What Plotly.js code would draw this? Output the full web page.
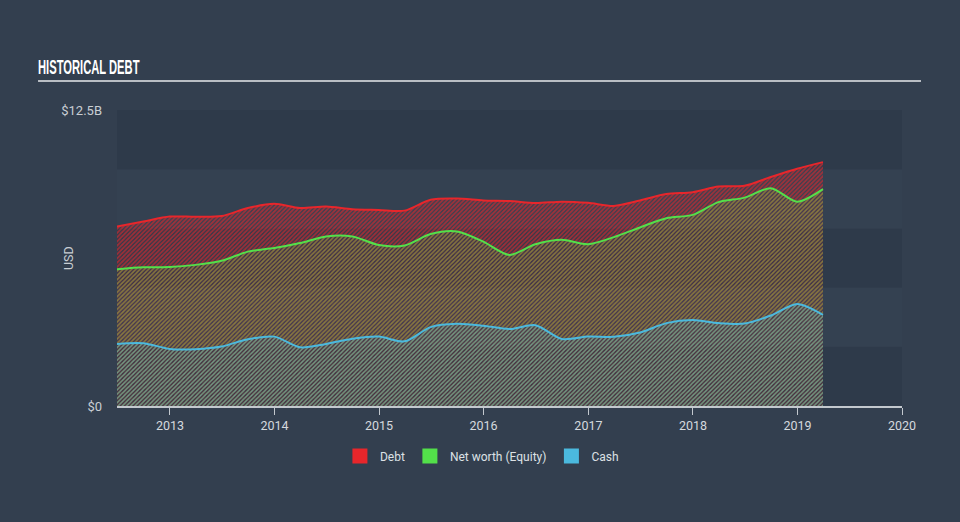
<!DOCTYPE html>
<html>
<head>
<meta charset="utf-8">
<script src="https://cdn.plot.ly/plotly-3.0.1.min.js"></script>
<style>html,body{margin:0;padding:0;background:#333f4f;}#chart{width:960px;height:522px;}</style>
</head>
<body>
<div id="chart"></div>
<script>
const dates = ['2012-06-30','2012-09-30','2012-12-31','2013-03-31','2013-06-30','2013-09-30','2013-12-31',
  '2014-03-31','2014-06-30','2014-09-30','2014-12-31','2015-03-31','2015-06-30','2015-09-30','2015-12-31',
  '2016-03-31','2016-06-30','2016-09-30','2016-12-31','2017-03-31','2017-06-30','2017-09-30','2017-12-31',
  '2018-03-31','2018-06-30','2018-09-30','2018-12-31','2019-03-31'];
const debt = [7.58,7.79,8.00,7.99,8.02,8.36,8.54,8.36,8.42,8.31,8.28,8.25,8.71,8.76,8.68,8.66,8.57,8.63,8.58,8.45,8.68,8.95,9.03,9.27,9.30,9.67,10.02,10.30];
const equity = [5.78,5.86,5.87,5.96,6.13,6.52,6.67,6.88,7.16,7.16,6.80,6.78,7.26,7.37,6.94,6.38,6.83,7.02,6.83,7.13,7.54,7.93,8.07,8.61,8.80,9.20,8.63,9.16];
const cash = [2.62,2.65,2.41,2.40,2.51,2.82,2.93,2.48,2.62,2.84,2.93,2.73,3.33,3.47,3.39,3.25,3.41,2.83,2.93,2.92,3.10,3.50,3.63,3.50,3.48,3.82,4.31,3.85];
const seriesNames = ['Debt','Net worth (Equity)','Cash'];
const seriesColors = ['#e8262b','#53e04a','#4bb9de'];
const yTickVals = [0,12.5];
const yTickText = ['$0','$12.5B'];
const xTickVals = ['2013-01-01','2014-01-01','2015-01-01','2016-01-01','2017-01-01','2018-01-01','2019-01-01','2020-01-01'];
const xTickText = ['2013','2014','2015','2016','2017','2018','2019','2020'];

const values = [debt, equity, cash];
const solidity = [0.6, 0.4, 0.35];
const fgop = [0.6, 0.5, 0.55];
const traces = [];
values.forEach((v,i)=>{
  traces.push({
    x: dates, y: v, type:'scatter', mode:'lines', name: seriesNames[i], showlegend:false,
    line:{color: seriesColors[i], width:2, shape:'spline', smoothing:0.8},
    fill:'tozeroy', fillcolor:'rgba(0,0,0,0)',
    fillpattern:{shape:'/', fgcolor: seriesColors[i], bgcolor:'rgba(0,0,0,0)', fgopacity:fgop[i], size:3, solidity:solidity[i]},
    hoverinfo:'skip'
  });
});
values.forEach((v,i)=>{
  traces.push({
    x:[null], y:[null], type:'scatter', mode:'markers', name: seriesNames[i], showlegend:true,
    marker:{symbol:'square', size:15, color: seriesColors[i]}
  });
});

const bandColors = ['#2e3a4a','#344151'];
const shapes = [];
for (let k=0;k<5;k++){
  shapes.push({type:'rect', xref:'paper', yref:'y', x0:0, x1:1, y0:k*2.5, y1:(k+1)*2.5,
    fillcolor: bandColors[k%2===0?0:1], line:{width:0}, layer:'below'});
}
shapes.push({type:'line', xref:'paper', yref:'paper', x0:-0.1006, x1:1.0242, y0:1.098, y1:1.098,
  line:{color:'#b9bec4', width:2}});

const layout = {
  width:960, height:522,
  paper_bgcolor:'#333f4f', plot_bgcolor:'rgba(0,0,0,0)',
  margin:{l:117, r:58, t:110, b:116},
  font:{family:'Roboto, "DejaVu Sans", sans-serif', color:'#d0d5db'},
  title:{text:'<b>HISTORICAL DEBT</b>', x:38/960, xanchor:'left', xref:'container', y:1-67/522, yanchor:'middle', yref:'container',
    font:{family:'"Liberation Sans", sans-serif', size:20, color:'#ffffff'}},
  xaxis:{type:'date', range:['2012-06-30','2020-01-01'], tickvals:xTickVals, ticktext:xTickText,
    showgrid:false, zeroline:false, showline:true, linecolor:'#c3c8ce', linewidth:1.5,
    ticks:'outside', ticklen:7, tickcolor:'#c3c8ce', tickwidth:1, tickfont:{size:12.5, color:'#d5d9de'}},
  yaxis:{range:[0,12.5], tickvals:yTickVals, ticktext:yTickText, showgrid:false, zeroline:false, showline:false,
    ticks:'', ticklabelstandoff:14, tickfont:{size:13, color:'#c9ced4'}},
  annotations:[{text:'USD', xref:'paper', yref:'paper', x:(68-117)/785, y:0.5, xanchor:'center', yanchor:'middle',
    textangle:-90, showarrow:false, font:{size:12.5, color:'#c9ced4'}}],
  legend:{orientation:'h', xref:'container', x:0.502, xanchor:'center', yref:'container', y:1-456/522, yanchor:'middle',
    font:{size:12, color:'#dde1e5'}, itemclick:false, bgcolor:'rgba(0,0,0,0)'},
  shapes: shapes,
  showlegend:true
};
Plotly.newPlot('chart', traces, layout, {displayModeBar:false, staticPlot:true}).then(()=>{
  const t = document.querySelector('.gtitle');
  if (t) {
    const x = parseFloat(t.getAttribute('x')), y = parseFloat(t.getAttribute('y'));
    t.setAttribute('transform', `translate(${x},${y}) scale(0.56,1) translate(${-x},${-y})`);
  }
});
</script>
</body>
</html>
